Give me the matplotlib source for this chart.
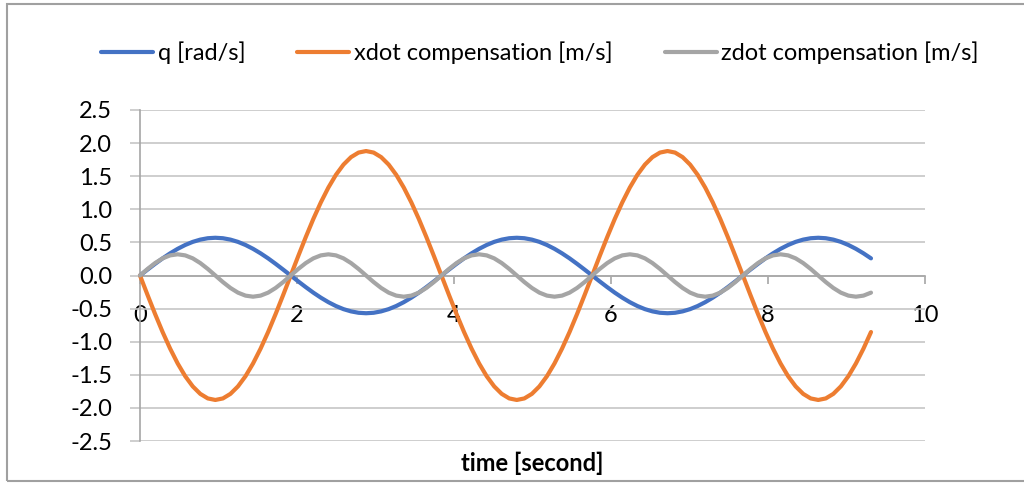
import matplotlib
matplotlib.use("Agg")
import matplotlib.pyplot as plt
from matplotlib.patches import Rectangle

plt.rcParams['font.family'] = ['Lato', 'DejaVu Sans']

time_s = [0, 0.096, 0.192, 0.288, 0.384, 0.48, 0.576, 0.672, 0.768, 0.864,
          0.96, 1.056, 1.152, 1.248, 1.344, 1.44, 1.536, 1.632, 1.728, 1.824,
          1.92, 2.016, 2.112, 2.208, 2.304, 2.4, 2.496, 2.592, 2.688, 2.784,
          2.88, 2.976, 3.072, 3.168, 3.264, 3.36, 3.456, 3.552, 3.648, 3.744,
          3.84, 3.936, 4.032, 4.128, 4.224, 4.32, 4.416, 4.512, 4.608, 4.704,
          4.8, 4.896, 4.992, 5.088, 5.184, 5.28, 5.376, 5.472, 5.568, 5.664,
          5.76, 5.856, 5.952, 6.048, 6.144, 6.24, 6.336, 6.432, 6.528, 6.624,
          6.72, 6.816, 6.912, 7.008, 7.104, 7.2, 7.296, 7.392, 7.488, 7.584,
          7.68, 7.776, 7.872, 7.968, 8.064, 8.16, 8.256, 8.352, 8.448, 8.544,
          8.64, 8.736, 8.832, 8.928, 9.024, 9.12, 9.216, 9.312]

q_rad_s = [0, 0.089, 0.176, 0.259, 0.335, 0.403, 0.461, 0.508, 0.542, 0.563,
           0.570, 0.563, 0.542, 0.508, 0.461, 0.403, 0.335, 0.259, 0.176, 0.089,
           0, -0.089, -0.176, -0.259, -0.335, -0.403, -0.461, -0.508, -0.542, -0.563,
           -0.570, -0.563, -0.542, -0.508, -0.461, -0.403, -0.335, -0.259, -0.176, -0.089,
           0, 0.089, 0.176, 0.259, 0.335, 0.403, 0.461, 0.508, 0.542, 0.563,
           0.570, 0.563, 0.542, 0.508, 0.461, 0.403, 0.335, 0.259, 0.176, 0.089,
           0, -0.089, -0.176, -0.259, -0.335, -0.403, -0.461, -0.508, -0.542, -0.563,
           -0.570, -0.563, -0.542, -0.508, -0.461, -0.403, -0.335, -0.259, -0.176, -0.089,
           0, 0.089, 0.176, 0.259, 0.335, 0.403, 0.461, 0.508, 0.542, 0.563,
           0.570, 0.563, 0.542, 0.508, 0.461, 0.403, 0.335, 0.259]

xdot_comp = [0, -0.294, -0.581, -0.854, -1.105, -1.329, -1.521, -1.675, -1.788, -1.857,
             -1.880, -1.857, -1.788, -1.675, -1.521, -1.329, -1.105, -0.854, -0.581, -0.294,
             0, 0.294, 0.581, 0.854, 1.105, 1.329, 1.521, 1.675, 1.788, 1.857,
             1.880, 1.857, 1.788, 1.675, 1.521, 1.329, 1.105, 0.854, 0.581, 0.294,
             0, -0.294, -0.581, -0.854, -1.105, -1.329, -1.521, -1.675, -1.788, -1.857,
             -1.880, -1.857, -1.788, -1.675, -1.521, -1.329, -1.105, -0.854, -0.581, -0.294,
             0, 0.294, 0.581, 0.854, 1.105, 1.329, 1.521, 1.675, 1.788, 1.857,
             1.880, 1.857, 1.788, 1.675, 1.521, 1.329, 1.105, 0.854, 0.581, 0.294,
             0, -0.294, -0.581, -0.854, -1.105, -1.329, -1.521, -1.675, -1.788, -1.857,
             -1.880, -1.857, -1.788, -1.675, -1.521, -1.329, -1.105, -0.854]

zdot_comp = [0, 0.099, 0.188, 0.259, 0.304, 0.320, 0.304, 0.259, 0.188, 0.099,
             0, -0.099, -0.188, -0.259, -0.304, -0.320, -0.304, -0.259, -0.188, -0.099,
             0, 0.099, 0.188, 0.259, 0.304, 0.320, 0.304, 0.259, 0.188, 0.099,
             0, -0.099, -0.188, -0.259, -0.304, -0.320, -0.304, -0.259, -0.188, -0.099,
             0, 0.099, 0.188, 0.259, 0.304, 0.320, 0.304, 0.259, 0.188, 0.099,
             0, -0.099, -0.188, -0.259, -0.304, -0.320, -0.304, -0.259, -0.188, -0.099,
             0, 0.099, 0.188, 0.259, 0.304, 0.320, 0.304, 0.259, 0.188, 0.099,
             0, -0.099, -0.188, -0.259, -0.304, -0.320, -0.304, -0.259, -0.188, -0.099,
             0, 0.099, 0.188, 0.259, 0.304, 0.320, 0.304, 0.259, 0.188, 0.099,
             0, -0.099, -0.188, -0.259, -0.304, -0.320, -0.304, -0.259]

series_labels = ['q [rad/s]', 'xdot compensation [m/s]', 'zdot compensation [m/s]']
series_colors = ['#4472C4', '#ED7D31', '#A5A5A5']
x_ticks = [0, 2, 4, 6, 8, 10]
y_ticks = [-2.5, -2.0, -1.5, -1.0, -0.5, 0.0, 0.5, 1.0, 1.5, 2.0, 2.5]

FS = 17
W, H = 1024, 483
fig = plt.figure(figsize=(W / 100, H / 100), dpi=100)
ax = fig.add_axes([140 / W, 1 - 441 / H, (925 - 140) / W, (441 - 110) / H])

for ys, lab, col in zip([q_rad_s, xdot_comp, zdot_comp], series_labels, series_colors):
    ax.plot(time_s, ys, color=col, lw=3.0, label=lab, solid_capstyle='round',
            solid_joinstyle='round', clip_on=False, zorder=3)

ax.set_xlim(0, 10)
ax.set_ylim(-2.5, 2.5)
ax.set_xticks(x_ticks)
ax.set_yticks(y_ticks)
ax.set_yticklabels([f'{v:.1f}' for v in y_ticks])

grid_col = '#c6c6c6'
axis_col = '#a6a6a6'
ax.yaxis.grid(True, color=grid_col, lw=1.2)
ax.xaxis.grid(False)
ax.set_axisbelow(True)

for s in ['top', 'right']:
    ax.spines[s].set_visible(False)
ax.spines['bottom'].set_position(('data', 0))
ax.spines['bottom'].set_color(axis_col)
ax.spines['bottom'].set_linewidth(1.2)
ax.spines['left'].set_color(axis_col)
ax.spines['left'].set_linewidth(1.2)

ax.tick_params(axis='x', direction='out', length=6, width=1.2, color=axis_col,
               pad=15, labelsize=FS, labelcolor='black')
ax.tick_params(axis='y', direction='out', length=7, width=1.2, color=grid_col,
               pad=13, labelsize=FS, labelcolor='black')

ax.set_xlabel('time [second]', fontsize=FS, fontweight='bold', labelpad=0)
ax.xaxis.set_label_coords(0.5, -(452 - 441) / (441 - 110))

leg = fig.legend(loc='center', bbox_to_anchor=(540 / W, 1 - 53 / H), ncol=3,
                 frameon=False, fontsize=FS, handlelength=2.2, handletextpad=0.2,
                 columnspacing=2.2)
for line in leg.get_lines():
    line.set_linewidth(3.0)

fig.patches.append(Rectangle((6.5 / W, 1 - 481 / H), 1.2, (481 - 4) / H,
                             transform=fig.transFigure, fill=False,
                             edgecolor='#a0a0a0', lw=1.5))

fig.savefig('out.png', dpi=100)
